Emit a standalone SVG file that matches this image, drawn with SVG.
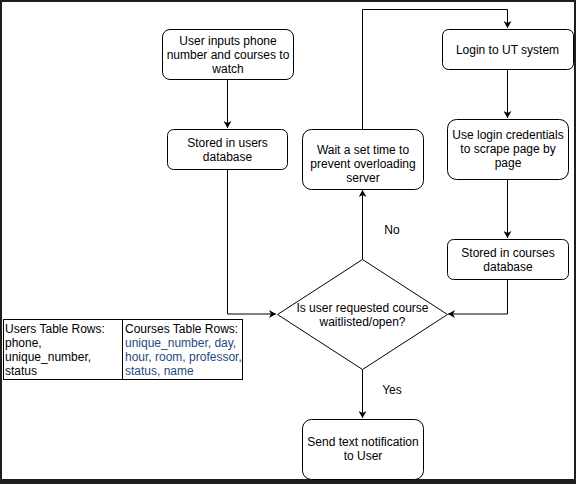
<svg xmlns="http://www.w3.org/2000/svg" width="576" height="484" viewBox="0 0 576 484">
<style>
.n{fill:#fff;stroke:#000;stroke-width:1}
.t{font-family:"Liberation Sans",Arial,sans-serif;font-size:12px;fill:#000}
.c{text-anchor:middle}
.e{fill:none;stroke:#000;stroke-width:1}
.b{fill:#1f4a82}
</style>
<defs>
<marker id="ah" markerWidth="8" markerHeight="8" refX="7" refY="4" orient="auto" markerUnits="userSpaceOnUse">
<path d="M0,0 L7,4 L0,8 L2,4 Z" fill="#000"/>
</marker>
</defs>
<rect x="0" y="0" width="576" height="484" fill="#1e1e1e"/>
<rect x="2" y="2" width="572" height="477" fill="#fff"/>
<g id="connectors">
<path class="e" d="M227.5,79 V128" marker-end="url(#ah)"/>
<path class="e" d="M227.5,169 V314 H276" marker-end="url(#ah)"/>
<path class="e" d="M362.5,259 V190" marker-end="url(#ah)"/>
<path class="e" d="M362.5,129 V9.5 H507.5 V28" marker-end="url(#ah)"/>
<path class="e" d="M507.5,69 V118" marker-end="url(#ah)"/>
<path class="e" d="M507.5,179 V238" marker-end="url(#ah)"/>
<path class="e" d="M507.5,279 V314 H448" marker-end="url(#ah)"/>
<path class="e" d="M362.5,369 V418" marker-end="url(#ah)"/>
<text class="t c" x="392" y="234">No</text>
<text class="t c" x="392" y="394">Yes</text>
</g>
<g id="user-inputs">
<rect class="n" x="162.5" y="29.5" width="131" height="50" rx="7.5"/>
<text class="t c" x="228" y="45">User inputs phone</text>
<text class="t c" x="228" y="59">number and courses to</text>
<text class="t c" x="228" y="73">watch</text>
</g>
<g id="stored-users">
<rect class="n" x="167.5" y="129.5" width="120" height="40" rx="6"/>
<text class="t c" x="227.5" y="147">Stored in users</text>
<text class="t c" x="227.5" y="161">database</text>
</g>
<g id="wait">
<rect class="n" x="302.5" y="129.5" width="121" height="60" rx="9"/>
<text class="t c" x="363" y="154">Wait a set time to</text>
<text class="t c" x="363" y="168">prevent overloading</text>
<text class="t c" x="363" y="182">server</text>
</g>
<g id="login">
<rect class="n" x="442.5" y="29.5" width="131" height="40" rx="6"/>
<text class="t c" x="507.5" y="54">Login to UT system</text>
</g>
<g id="scrape">
<rect class="n" x="447.5" y="119.5" width="121" height="60" rx="9"/>
<text class="t c" x="508" y="139">Use login credentials</text>
<text class="t c" x="508" y="153">to scrape page by</text>
<text class="t c" x="508" y="167">page</text>
</g>
<g id="stored-courses">
<rect class="n" x="447.5" y="239.5" width="121" height="40" rx="6"/>
<text class="t c" x="508" y="257">Stored in courses</text>
<text class="t c" x="508" y="271">database</text>
</g>
<g id="decision">
<path class="n" d="M362.5,259.5 L447.5,314.5 L362.5,369.5 L277.5,314.5 Z"/>
<text class="t c" x="362.5" y="312">Is user requested course</text>
<text class="t c" x="362.5" y="326">waitlisted/open?</text>
</g>
<g id="send">
<rect class="n" x="302.5" y="419.5" width="121" height="60" rx="9"/>
<text class="t c" x="363" y="446">Send text notification</text>
<text class="t c" x="363" y="460">to User</text>
</g>
<g id="users-table">
<rect class="n" x="3.5" y="319.5" width="119" height="60"/>
<text class="t" x="5" y="333">Users Table Rows:</text>
<text class="t" x="5" y="347">phone,</text>
<text class="t" x="5" y="361">unique_number,</text>
<text class="t" x="5" y="375">status</text>
</g>
<g id="courses-table">
<rect class="n" x="122.5" y="319.5" width="120" height="60"/>
<text class="t" x="125" y="333">Courses Table Rows:</text>
<text class="t b" x="125" y="347">unique_number, day,</text>
<text class="t b" x="125" y="361">hour, room, professor,</text>
<text class="t b" x="125" y="375">status, name</text>
</g>
</svg>
